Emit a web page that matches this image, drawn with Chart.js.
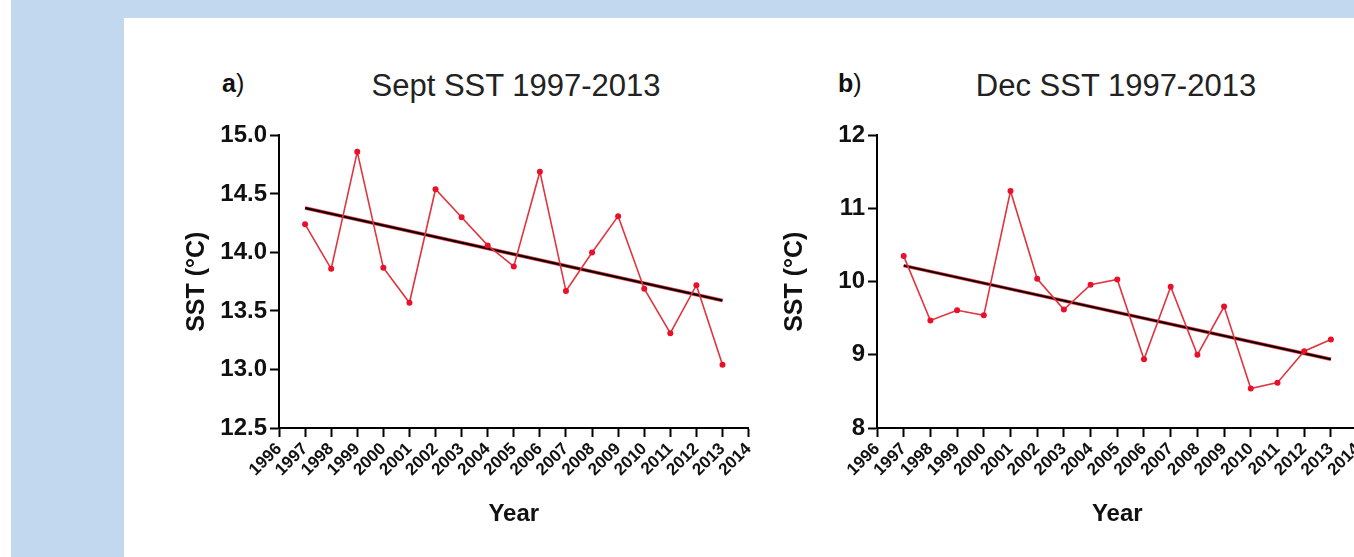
<!DOCTYPE html>
<html>
<head>
<meta charset="utf-8">
<script src="https://cdn.jsdelivr.net/npm/chart.js@4"></script>
<style>
  body { margin: 0; width: 1354px; height: 557px; overflow: hidden; background: #fff; position: relative; font-family: "Liberation Sans", Arial, sans-serif; }
  #blue { position: absolute; left: 11px; top: 0; width: 1343px; height: 557px; background: #c1d8ef; }
  #panel { position: absolute; left: 124px; top: 18px; right: 0; bottom: 0; background: #fff; }
  .box { position: absolute; }
  .title { position: absolute; font-size: 31px; color: #222; white-space: nowrap; transform: translateX(-50%); }
  .tag { position: absolute; font-size: 25px; color: #111; }
  .tag b { font-weight: bold; }
</style>
</head>
<body>
<div id="blue"></div>
<div id="panel"></div>
<div class="tag" style="left:222px; top:69px;"><b>a</b>)</div>
<div class="title" style="left:516px; top:68px;">Sept SST 1997-2013</div>
<div class="tag" style="left:838px; top:69px;"><b>b</b>)</div>
<div class="title" style="left:1116px; top:68px;">Dec SST 1997-2013</div>
<div class="box" style="left:179px; top:118px; width:586px; height:411px;"><canvas id="chartA"></canvas></div>
<div class="box" style="left:777px; top:118px; width:597px; height:411px;"><canvas id="chartB"></canvas></div>
<script>
var years = [1997, 1998, 1999, 2000, 2001, 2002, 2003, 2004, 2005, 2006, 2007, 2008, 2009, 2010, 2011, 2012, 2013];
var septSST = [14.24, 13.86, 14.86, 13.87, 13.57, 14.54, 14.30, 14.06, 13.88, 14.69, 13.67, 14.00, 14.31, 13.69, 13.31, 13.72, 13.04];
var decSST = [10.35, 9.47, 9.61, 9.54, 11.24, 10.04, 9.62, 9.96, 10.03, 8.94, 9.93, 9.00, 9.66, 8.54, 8.62, 9.05, 9.21];
var trendYears = [1997, 2013];
var septTrend = [14.38, 13.59];
var decTrend = [10.22, 8.94];

var fontName = "'Liberation Sans', Arial, sans-serif";

function pts(xs, ys) {
    var out = [];
    for (var i in xs) {
        out.push({x: xs[i], y: ys[i]});
    }
    return out;
}

function makeChart(id, values, trend, yMin, yMax, yStep, decimals) {
    var ctx = document.getElementById(id);
    return new Chart(ctx, {
        type: 'line',
        data: {
            datasets: [{
                data: pts(trendYears, trend),
                borderColor: '#e8303c',
                borderWidth: 3.5,
                pointRadius: 0,
                order: 3
            }, {
                data: pts(trendYears, trend),
                borderColor: '#000',
                borderWidth: 2,
                pointRadius: 0,
                order: 2
            }, {
                data: pts(years, values),
                borderColor: '#e0343f',
                borderWidth: 1.6,
                pointRadius: 3,
                pointBackgroundColor: '#e8102a',
                pointBorderColor: '#e8102a',
                pointBorderWidth: 0,
                order: 1
            }]
        },
        options: {
            responsive: true,
            maintainAspectRatio: false,
            animation: false,
            layout: { padding: 0 },
            plugins: { legend: { display: false }, tooltip: { enabled: false } },
            scales: {
                x: {
                    type: 'linear',
                    min: 1996,
                    max: 2014,
                    border: { display: true, color: '#000', width: 2 },
                    grid: { display: true, drawOnChartArea: false, drawTicks: true, tickLength: 9, tickWidth: 2, tickColor: '#000' },
                    ticks: {
                        stepSize: 1,
                        autoSkip: false,
                        maxRotation: 45,
                        minRotation: 45,
                        padding: 2,
                        color: '#111',
                        font: { family: fontName, size: 17, weight: 'bold' },
                        callback: function(v) { return String(v); }
                    },
                    title: { display: true, text: 'Year', color: '#111', font: { family: fontName, size: 24, weight: 'bold' }, padding: 0 },
                    afterFit: function(s) { s.height = 101; }
                },
                y: {
                    min: yMin,
                    max: yMax,
                    border: { display: true, color: '#000', width: 2 },
                    grid: { display: true, drawOnChartArea: false, drawTicks: true, tickLength: 9, tickWidth: 2, tickColor: '#000' },
                    ticks: {
                        stepSize: yStep,
                        padding: 3,
                        color: '#111',
                        font: { family: fontName, size: 24, weight: 'bold' },
                        callback: function(v) { return v.toFixed(decimals); }
                    },
                    title: { display: true, text: 'SST (°C)', color: '#111', font: { family: fontName, size: 25, weight: 'bold' }, padding: { top: 3, bottom: 0 } },
                    afterFit: function(s) { s.width = 100; }
                }
            }
        }
    });
}

makeChart('chartA', septSST, septTrend, 12.5, 15, 0.5, 1);
makeChart('chartB', decSST, decTrend, 8, 12, 1, 0);
</script>
</body>
</html>
